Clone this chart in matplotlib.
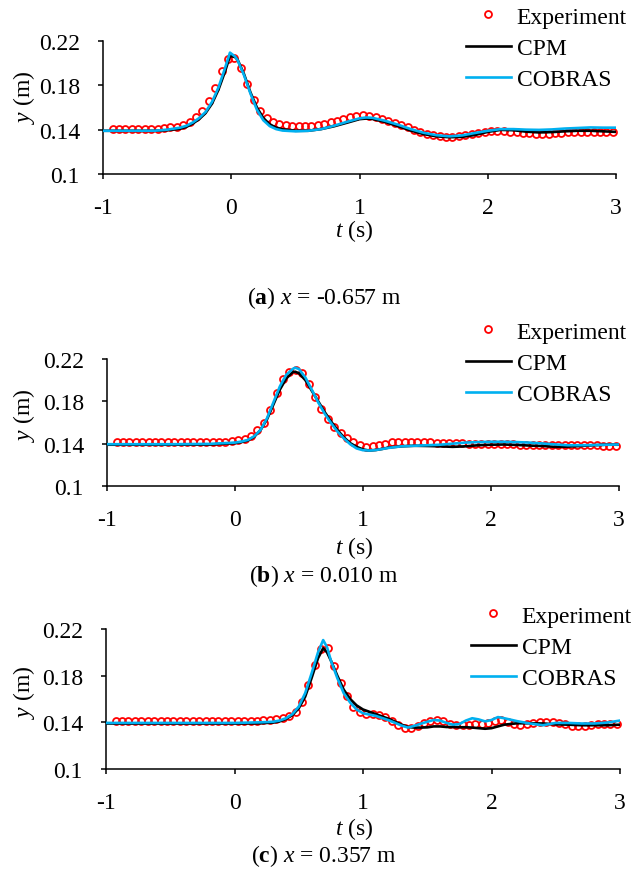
import numpy as np
import matplotlib
matplotlib.use("Agg")
import matplotlib.pyplot as plt

plt.rcParams['font.family'] = 'Liberation Serif'
plt.rcParams['mathtext.fontset'] = 'custom'
plt.rcParams['mathtext.rm'] = 'Liberation Serif'
plt.rcParams['mathtext.it'] = 'Liberation Serif:italic'
plt.rcParams['mathtext.bf'] = 'Liberation Serif:bold'

# experiment sampling times (every 0.05 s)
t_exp = np.round(-0.925 + 0.05 * np.arange(79), 3)

# (a) x = -0.657 m
exp_a = [0.1405, 0.1405, 0.1405, 0.1405, 0.1405, 0.1405, 0.1408, 0.141, 0.1413, 0.142,
         0.1425, 0.1445, 0.147, 0.151, 0.157, 0.166, 0.178, 0.193, 0.2035, 0.205,
         0.196, 0.181, 0.167, 0.157, 0.1505, 0.1468, 0.1448, 0.1438, 0.1433, 0.1432,
         0.1432, 0.1435, 0.144, 0.145, 0.1465, 0.148, 0.1495, 0.151, 0.152, 0.1528,
         0.1525, 0.1515, 0.15, 0.148, 0.146, 0.144, 0.142, 0.14, 0.138, 0.1365,
         0.135, 0.1342, 0.1338, 0.1338, 0.1342, 0.135, 0.1362, 0.1372, 0.138, 0.1386,
         0.1388, 0.1386, 0.1382, 0.1378, 0.1372, 0.1366, 0.1363, 0.1362, 0.1364, 0.1368,
         0.1372, 0.1376, 0.1379, 0.138, 0.138, 0.1379, 0.1378, 0.1379, 0.1381]
t_a = [-1, -0.6, -0.5, -0.4, -0.35, -0.3, -0.25, -0.2, -0.15, -0.1, -0.05, -0.01, 0.03,
       0.05, 0.1, 0.15, 0.2, 0.25, 0.3, 0.35, 0.4, 0.5, 0.6, 0.7, 0.8, 0.9, 1.0, 1.05, 1.1,
       1.2, 1.3, 1.4, 1.5, 1.6, 1.7, 1.8, 1.9, 2.0, 2.1, 2.2, 2.3, 2.4, 2.5, 2.6, 2.7, 2.8, 2.9, 3.0]
cpm_a = [0.139, 0.139, 0.1395, 0.1408, 0.1425, 0.1455, 0.1495, 0.155, 0.1635, 0.176, 0.192,
         0.2065, 0.2055, 0.203, 0.190, 0.1735, 0.160, 0.1505, 0.1448, 0.1418, 0.1403,
         0.139, 0.139, 0.1405, 0.143, 0.1462, 0.1495, 0.150, 0.1497,
         0.147, 0.1432, 0.1392, 0.136, 0.134, 0.1332, 0.1335, 0.1352, 0.138, 0.1398, 0.1395,
         0.1382, 0.1375, 0.1378, 0.1385, 0.139, 0.139, 0.1385, 0.138]
cobras_a = [0.139, 0.139, 0.140, 0.1418, 0.1435, 0.1465, 0.1505, 0.156, 0.165, 0.178, 0.195,
            0.2095, 0.206, 0.2025, 0.189, 0.1725, 0.158, 0.1485, 0.1432, 0.1405, 0.1392,
            0.1385, 0.139, 0.1405, 0.1435, 0.147, 0.1502, 0.151, 0.1507,
            0.148, 0.1445, 0.1405, 0.1372, 0.135, 0.134, 0.1348, 0.137, 0.139, 0.1405, 0.1405,
            0.14, 0.1398, 0.1402, 0.141, 0.1415, 0.142, 0.1418, 0.1418]

# (b) x = 0.010 m
exp_b = [0.1415, 0.1415, 0.1415, 0.1415, 0.1415, 0.1415, 0.1415, 0.1415, 0.1415, 0.1415,
         0.1415, 0.1415, 0.1415, 0.1415, 0.1415, 0.1416, 0.1418, 0.142, 0.1423, 0.143,
         0.1442, 0.147, 0.1525, 0.160, 0.172, 0.188, 0.2015, 0.208, 0.2098, 0.2065,
         0.196, 0.184, 0.1725, 0.1635, 0.156, 0.150, 0.145, 0.1412, 0.1385, 0.1373,
         0.1375, 0.1388, 0.140, 0.1412, 0.1418, 0.142, 0.142, 0.1418, 0.1415, 0.1412,
         0.141, 0.1407, 0.1405, 0.1403, 0.1402, 0.1401, 0.14, 0.14, 0.1398, 0.1397,
         0.1396, 0.1395, 0.1393, 0.1392, 0.139, 0.1388, 0.1387, 0.1386, 0.1385, 0.1384,
         0.1384, 0.1384, 0.1385, 0.1385, 0.1384, 0.1383, 0.1382, 0.1381, 0.138]
t_b = [-1, -0.5, -0.2, 0, 0.05, 0.1, 0.15, 0.2, 0.25, 0.3, 0.35, 0.4, 0.45, 0.47,
       0.5, 0.55, 0.6, 0.65, 0.7, 0.75, 0.8, 0.85, 0.9, 0.95, 1.0, 1.05, 1.1, 1.15, 1.2,
       1.3, 1.4, 1.5, 1.6, 1.7, 1.8, 1.9, 2.0, 2.1, 2.2, 2.3, 2.4, 2.5, 2.6, 2.7, 2.8, 2.9, 3.0]
cpm_b = [0.139, 0.139, 0.1392, 0.1405, 0.1415, 0.143, 0.1465, 0.153, 0.163, 0.177, 0.191,
         0.2015, 0.2075, 0.208, 0.2065, 0.200, 0.190, 0.180, 0.170, 0.161, 0.153, 0.146,
         0.1405, 0.137, 0.1345, 0.1335, 0.134, 0.135, 0.1363, 0.1375, 0.138, 0.1378, 0.1375,
         0.137, 0.1375, 0.1385, 0.139, 0.1392, 0.1388, 0.1382, 0.1378, 0.137, 0.1372, 0.1378,
         0.1385, 0.139, 0.139]
cobras_b = [0.1395, 0.1395, 0.1398, 0.141, 0.142, 0.1435, 0.147, 0.153, 0.164, 0.179, 0.194,
            0.205, 0.2105, 0.2118, 0.2105, 0.2025, 0.191, 0.179, 0.1685, 0.1595, 0.1515,
            0.145, 0.1395, 0.1355, 0.1338, 0.1335, 0.134, 0.135, 0.136, 0.1375, 0.138, 0.1385,
            0.139, 0.140, 0.141, 0.1415, 0.1418, 0.1418, 0.1415, 0.141, 0.1402, 0.1393, 0.1385,
            0.1385, 0.1387, 0.139, 0.1392]

# (c) x = 0.357 m
exp_c = [0.1412, 0.1412, 0.1412, 0.1412, 0.1412, 0.1412, 0.1412, 0.1412, 0.1412, 0.1412,
         0.1412, 0.1412, 0.1412, 0.1412, 0.1412, 0.1412, 0.1412, 0.1412, 0.1412, 0.1412,
         0.1412, 0.1413, 0.1414, 0.1416, 0.142, 0.1425, 0.1435, 0.1455, 0.149, 0.1575,
         0.172, 0.1895, 0.2025, 0.2035, 0.1885, 0.174, 0.163, 0.1535, 0.1485, 0.147,
         0.1468, 0.1462, 0.1445, 0.141, 0.1375, 0.1355, 0.1355, 0.137, 0.1395, 0.1415,
         0.1418, 0.1408, 0.139, 0.1378, 0.1375, 0.138, 0.1388, 0.139, 0.1395, 0.141,
         0.1418, 0.1405, 0.1388, 0.138, 0.1385, 0.1395, 0.1402, 0.1403, 0.14, 0.1392,
         0.1382, 0.1372, 0.1368, 0.137, 0.1378, 0.1385, 0.139, 0.1388, 0.1385]
t_c = [-1, -0.5, 0, 0.2, 0.3, 0.35, 0.4, 0.45, 0.5, 0.55, 0.6, 0.65, 0.69, 0.72,
       0.75, 0.8, 0.85, 0.9, 0.95, 1.0, 1.1, 1.2, 1.3, 1.35, 1.4, 1.45, 1.5, 1.55, 1.6,
       1.65, 1.7, 1.75, 1.8, 1.85, 1.9, 1.95, 2.0, 2.05, 2.1, 2.2, 2.3, 2.4, 2.5, 2.6,
       2.7, 2.8, 2.9, 3.0]
cpm_c = [0.139, 0.139, 0.139, 0.1392, 0.1398, 0.1408, 0.1428, 0.1462, 0.152, 0.162, 0.178,
         0.195, 0.2035, 0.200, 0.193, 0.180, 0.168, 0.160, 0.1545, 0.151, 0.147, 0.143,
         0.138, 0.136, 0.1355, 0.1355, 0.1357, 0.1365, 0.1365, 0.136, 0.136, 0.1358, 0.1358,
         0.1355, 0.135, 0.1345, 0.135, 0.1365, 0.138, 0.1392, 0.1392, 0.139, 0.1383, 0.138,
         0.1375, 0.1375, 0.1375, 0.138]
cobras_c = [0.1395, 0.1395, 0.1395, 0.14, 0.1405, 0.1415, 0.1435, 0.147, 0.1535, 0.165, 0.182,
            0.200, 0.2105, 0.2045, 0.193, 0.178, 0.165, 0.157, 0.151, 0.1478, 0.1455, 0.1418,
            0.1372, 0.1355, 0.137, 0.1388, 0.1405, 0.142, 0.1415, 0.1395, 0.138, 0.1385, 0.1415,
            0.1435, 0.1425, 0.1408, 0.142, 0.1445, 0.1435, 0.141, 0.139, 0.1375, 0.1395, 0.1395,
            0.139, 0.139, 0.1398, 0.1415]

captions = ['a', 'b', 'c']
positions = ['-0.657', '0.010', '0.357']
x_ticks = [-1, 0, 1, 2, 3]
x_ticklabels = ['-1', '0', '1', '2', '3']
y_ticks = [0.1, 0.14, 0.18, 0.22]
y_ticklabels = ['0.1', '0.14', '0.18', '0.22']

W, H = 638, 870
fig = plt.figure(figsize=(W / 100, H / 100), dpi=100)


def fx(x):
    return x / W


def fy(y):
    return 1 - y / H


# layout per panel (pixels): axes box, legend top, y-label centre, t-label, caption
panels = [
    dict(box=(103, 42, 616, 175), leg=(466, 7), ylab=97, tlab=231, cap=298,
         exp=exp_a, t=t_a, cpm=cpm_a, cob=cobras_a),
    dict(box=(107, 360, 619, 487), leg=(466, 322), ylab=415, tlab=548, cap=576,
         exp=exp_b, t=t_b, cpm=cpm_b, cob=cobras_b),
    dict(box=(106, 630, 620, 770), leg=(471, 606), ylab=692, tlab=829, cap=856,
         exp=exp_c, t=t_c, cpm=cpm_c, cob=cobras_c),
]

FS = 17

for i, p in enumerate(panels):
    x0, y0, x1, y1 = p['box']
    ax = fig.add_axes([fx(x0), fy(y1), (x1 - x0) / W, (y1 - y0) / H])
    ax.plot(t_exp, p['exp'], 'o', mfc='none', mec='#FF0000', ms=5, mew=1.3,
            label='Experiment', clip_on=False, zorder=2)
    ax.plot(p['t'], p['cpm'], color='black', lw=1.9, label='CPM', zorder=3)
    ax.plot(p['t'], p['cob'], color='#00B0F0', lw=1.9, label='COBRAS', zorder=4)

    ax.set_xlim(-1, 3)
    ax.set_ylim(0.1, 0.22)
    ax.set_xticks(x_ticks)
    ax.set_xticklabels(x_ticklabels)
    ax.set_yticks(y_ticks)
    ax.set_yticklabels(y_ticklabels)
    for s in ['top', 'right']:
        ax.spines[s].set_visible(False)
    for s in ['left', 'bottom']:
        ax.spines[s].set_linewidth(1.1)
    ax.tick_params(direction='out', length=3.6, width=1.1, labelsize=FS)
    ax.tick_params(axis='y', pad=13)
    ax.tick_params(axis='x', pad=13)
    ax.patch.set_alpha(0)

    ax.legend(loc='upper left', bbox_to_anchor=(fx(p['leg'][0]), fy(p['leg'][1])),
              bbox_transform=fig.transFigure, frameon=False, fontsize=FS,
              borderpad=0, borderaxespad=0, handlelength=1.9, handletextpad=0.25,
              labelspacing=0.42)

    fig.text(fx(24), fy(p['ylab']), r'$y$ (m)', rotation=90, fontsize=FS,
             ha='center', va='center')
    fig.text(fx(354), fy(p['tlab']), r'$t$ (s)', fontsize=FS, ha='center', va='center')
    fig.text(fx(324), fy(p['cap']),
             r'($\mathbf{%s}$) $x$ = %s m' % (captions[i], positions[i]),
             fontsize=FS, ha='center', va='center')

fig.savefig('out.png', dpi=100)
